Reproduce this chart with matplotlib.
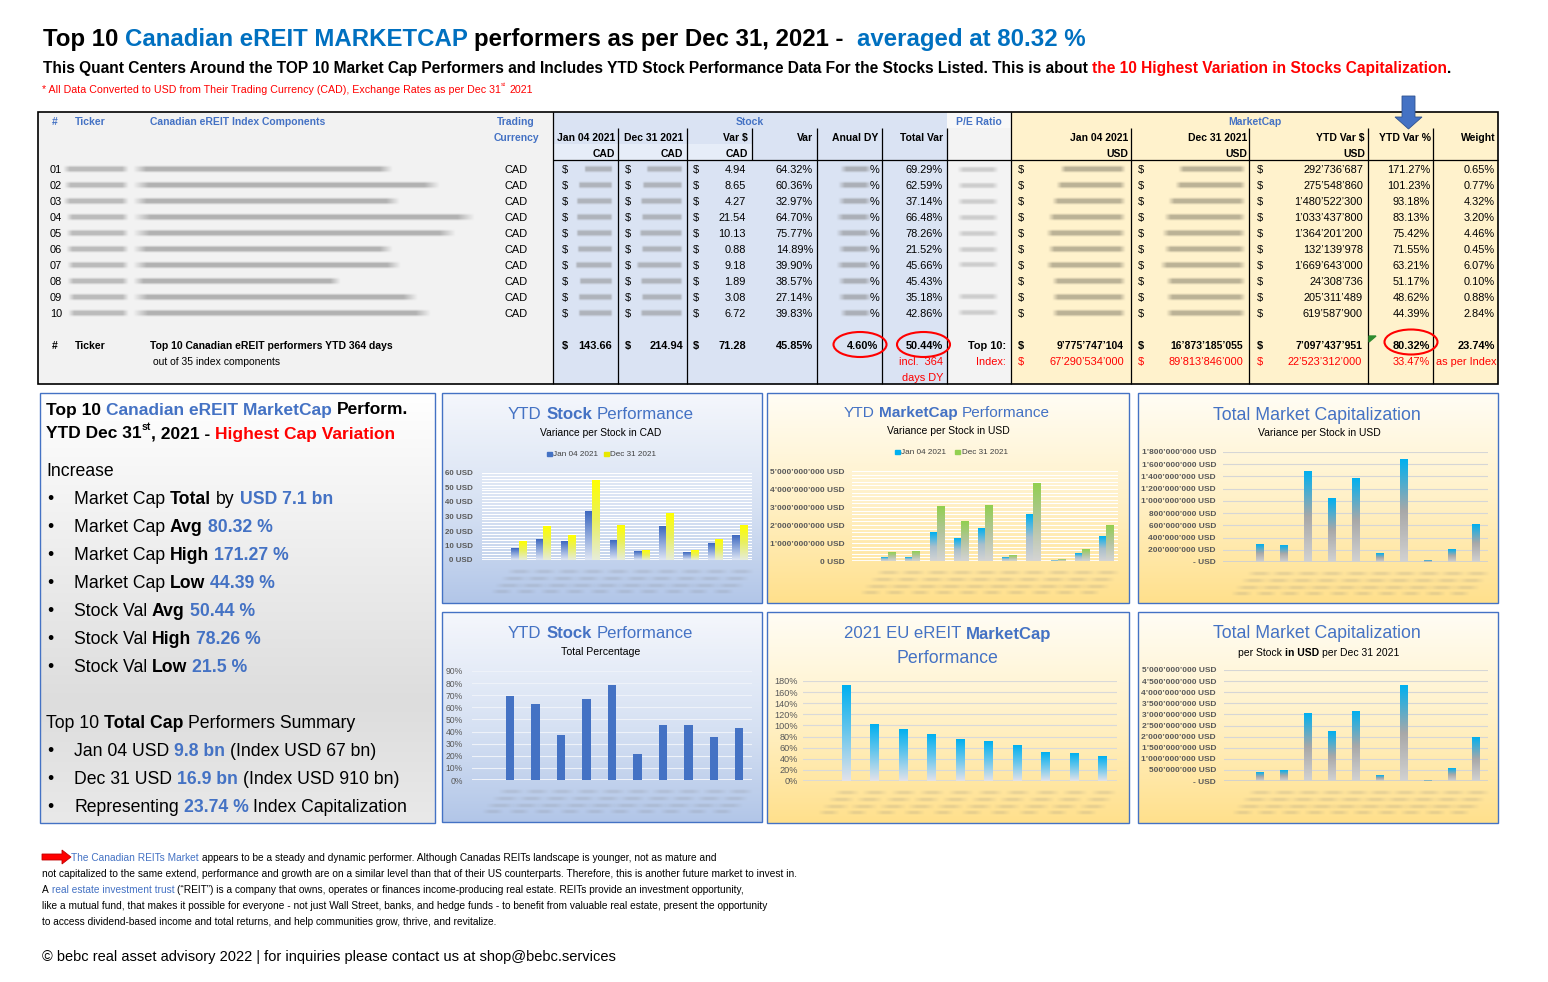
import numpy as np
import matplotlib
matplotlib.use('Agg')
import matplotlib.pyplot as plt
from matplotlib import font_manager as fm
from matplotlib.patches import Rectangle, Ellipse, Polygon
from matplotlib.colors import LinearSegmentedColormap

# ---------------- data ----------------
row_ids = ['01', '02', '03', '04', '05', '06', '07', '08', '09', '10']
trading_currency = ['CAD'] * 10
stock_jan_cad = [7.68, 14.33, 12.95, 33.29, 13.37, 5.91, 23.01, 4.90, 11.35, 16.87]
stock_dec_cad = [12.62, 22.98, 17.22, 54.83, 23.50, 6.79, 32.19, 6.79, 14.43, 23.59]
stock_var_cad = [4.94, 8.65, 4.27, 21.54, 10.13, 0.88, 9.18, 1.89, 3.08, 6.72]
stock_var_pct = [64.32, 60.36, 32.97, 64.70, 75.77, 14.89, 39.90, 38.57, 27.14, 39.83]
total_var_pct = [69.29, 62.59, 37.14, 66.48, 78.26, 21.52, 45.66, 45.43, 35.18, 42.86]
mcap_var_usd = [292736687, 275548860, 1480522300, 1033437800, 1364201200,
                132139978, 1669643000, 24308736, 205311489, 619587900]
mcap_var_pct = [171.27, 101.23, 93.18, 83.13, 75.42, 71.55, 63.21, 51.17, 48.62, 44.39]
weight_pct = [0.65, 0.77, 4.32, 3.20, 4.46, 0.45, 6.07, 0.10, 0.88, 2.84]

stock_totals_cad = [143.66, 214.94, 71.28]
stock_total_var_pct = 45.85
stock_total_dy_pct = 4.60
stock_total_totalvar_pct = 50.44
mcap_top10_usd = [9775747104, 16873185055, 7097437951]
mcap_index_usd = [67290534000, 89813846000, 22523312000]
mcap_top10_var_pct = 80.32
mcap_index_var_pct = 33.47
top10_weight_pct = 23.74

chart2_jan_usd = [0.17e9, 0.17e9, 1.57e9, 1.24e9, 1.80e9, 0.19e9, 2.61e9, 0.05e9, 0.41e9, 1.35e9]
chart2_dec_usd = [0.46e9, 0.52e9, 3.02e9, 2.22e9, 3.11e9, 0.30e9, 4.28e9, 0.07e9, 0.65e9, 2.00e9]
chart6_dec_usd = [0.39e9, 0.48e9, 3.02e9, 2.21e9, 3.11e9, 0.26e9, 4.29e9, 0.01e9, 0.57e9, 1.95e9]
legend_dates = ['Jan 04 2021', 'Dec 31 2021']

# ---------------- setup ----------------
W, H = 1548, 982
fig = plt.figure(figsize=(W / 100, H / 100), dpi=100, facecolor='white')
names = {f.name for f in fm.fontManager.ttflist}
NARROW = 'Liberation Sans Narrow' in names
CAL = 'Liberation Sans Narrow' if NARROW else 'Liberation Sans'
FAM = [CAL, 'DejaVu Sans']
plt.rcParams['font.family'] = FAM

bg = fig.add_axes([0, 0, 1, 1])
bg.set_xlim(0, W); bg.set_ylim(H, 0); bg.axis('off'); bg.set_autoscale_on(False)
R = fig.canvas.get_renderer()

BLUE = '#0070c0'
BLUE2 = '#4472c4'
RED = '#ff0000'
K = 'black'
B, N = 'bold', 'normal'
SC = 1.0 if NARROW else 0.84
TS = 9.4 * SC      # table data
THS = 8.9 * SC     # table bold headers


def txt(x, y, s, size=TS, color=K, weight=N, ha='left', va='center_baseline', z=6):
    return bg.text(x, y, s, fontsize=size, color=color, fontweight=weight,
                   ha=ha, va=va, zorder=z)


_sw = {}


def space_w(size, weight):
    k = (round(size, 2), weight)
    if k not in _sw:
        a = bg.text(0, 0, 'n n', fontsize=size, fontweight=weight)
        b = bg.text(0, 0, 'nn', fontsize=size, fontweight=weight)
        _sw[k] = a.get_window_extent(R).width - b.get_window_extent(R).width
        a.remove(); b.remove()
    return _sw[k]


def _layout(x, y, parts, size, draw, va='center_baseline', z=6):
    cx = x
    for p in parts:
        s, c, wgt = p[0], p[1], p[2]
        rs = p[3] if len(p) > 3 else 1.0
        dy = p[4] if len(p) > 4 else 0.0
        fs = size * rs
        sw = space_w(fs, wgt)
        core = s.strip(' ')
        lead = len(s) - len(s.lstrip(' '))
        trail = (len(s) - len(s.rstrip(' '))) if core else 0
        cx += lead * sw
        if core:
            t = bg.text(cx, y + dy * size * 100 / 72, core, fontsize=fs, color=c,
                        fontweight=wgt, ha='left', va=va, zorder=z)
            cx += t.get_window_extent(R).width
            if not draw:
                t.remove()
        cx += trail * sw
    return cx - x


def fit_size(parts, target, base=10.0):
    return base * target / _layout(0, 0, parts, base, False)


def rich(x, y, parts, size=10.0, target=None, ha='left', z=6):
    if target is not None:
        size = fit_size(parts, target, size)
    w = _layout(0, 0, parts, size, False)
    if ha == 'center':
        x -= w / 2
    elif ha == 'right':
        x -= w
    _layout(x, y, parts, size, True, z=z)
    return size


def rect(x0, y0, x1, y1, fc, ec='none', lw=0, z=1):
    bg.add_patch(Rectangle((x0, y0), x1 - x0, y1 - y0, facecolor=fc,
                           edgecolor=ec, linewidth=lw, zorder=z))


def vline(x, y0, y1, lw=0.9):
    bg.plot([x, x], [y0, y1], color=K, lw=lw, zorder=7, solid_capstyle='butt')


def hline(y, x0, x1, lw=0.9):
    bg.plot([x0, x1], [y, y], color=K, lw=lw, zorder=7, solid_capstyle='butt')


def smudge(x0, x1, yc, h=6.0, color=(0.45, 0.45, 0.45), amax=0.7, fade=0.12, z=4):
    w = max(int(round(x1 - x0)) * 2, 4)
    n = 24
    ys = np.linspace(-1, 1, n)
    xs = np.linspace(0, 1, w)
    prof = np.exp(-(ys / 0.75) ** 4) * (0.7 + 0.3 * np.cos(ys * 7.0) ** 2)
    hx = np.clip(np.minimum(xs, 1 - xs) / fade, 0, 1)
    a = np.clip(prof[:, None] * hx[None, :] * amax, 0, 1)
    img = np.zeros((n, w, 4))
    img[..., 0], img[..., 1], img[..., 2] = color
    img[..., 3] = a
    bg.imshow(img, extent=(x0, x1, yc + h / 2, yc - h / 2), aspect='auto',
              interpolation='bilinear', zorder=z)


def panel(x0, y0, x1, y1, stops, ec=BLUE2):
    cmap = LinearSegmentedColormap.from_list('p', stops)
    g = np.linspace(0, 1, 256)[:, None]
    bg.imshow(g, cmap=cmap, extent=(x0, x1, y1, y0), aspect='auto', origin='upper',
              zorder=1, interpolation='bilinear', vmin=0, vmax=1)
    bg.add_patch(Rectangle((x0, y0), x1 - x0, y1 - y0, fill=False, edgecolor=ec,
                           lw=1.0, zorder=2))


def ap(v):
    return f"{int(round(v)):,}".replace(',', '\u2019')


# ---------------- header texts ----------------
rich(43, 37, [("Top 10 ", K, B), ("Canadian eREIT MARKETCAP", BLUE, B),
              (" performers as per Dec 31, 2021 -  ", K, B), ("averaged at 80.32 %", BLUE, B)],
     size=18, target=1042)
rich(43, 67, [("This Quant Centers Around the TOP 10 Market Cap Performers and Includes YTD Stock "
               "Performance Data For the Stocks Listed. This is about ", K, B),
              ("the 10 Highest Variation in Stocks Capitalization", RED, B), (".", K, B)],
     size=11, target=1414)
rich(42, 89, [("* All Data Converted to USD from Their Trading Currency (CAD), Exchange Rates as per Dec 31", RED, N),
              ("st", RED, N, 0.6, -0.45), (" 2021", RED, N)], size=8, target=491)

# ---------------- table ----------------
T0, T1 = 112, 384
rect(38, T0, 553, T1, '#f2f2f2')
rect(553, T0, 947, T1, '#dae3f3')
rect(553, 144, 752, 160, '#e6edf8')
rect(947, T0, 1011, T1, '#f3f3f3')
rect(947, T0, 1011, 128, '#f8f8f8')
rect(1011, T0, 1498, T1, '#fff2cc')
bg.add_patch(Rectangle((38, T0), 1498 - 38, T1 - T0, fill=False, edgecolor=K, lw=1.2, zorder=8))
vline(553, T0, T1)
vline(1011, T0, T1)
for xv in [618, 687, 817, 882, 947, 1131, 1249, 1368, 1433]:
    vline(xv, 128, T1)
vline(752, 128, 160)
hline(160, 553, 1498)

for s, x, ha in [('#', 52, 'left'), ('Ticker', 75, 'left'), ('Canadian eREIT Index Components', 150, 'left')]:
    txt(x, 121, s, size=THS, color=BLUE2, weight=B, ha=ha)
txt(516, 121, 'Trading', size=THS, color=BLUE2, weight=B, ha='center')
txt(516, 137, 'Currency', size=THS, color=BLUE2, weight=B, ha='center')
txt(750, 121, 'Stock', size=THS, color=BLUE2, weight=B, ha='center')
txt(979, 121, 'P/E Ratio', size=THS, color=BLUE2, weight=B, ha='center')
txt(1255, 121, 'MarketCap', size=THS, color=BLUE2, weight=B, ha='center')
for s, x, y in [('Jan 04 2021', 615, 137), ('CAD', 615, 153), ('Dec 31 2021', 683, 137), ('CAD', 683, 153),
                ('Var $', 748, 137), ('CAD', 748, 153), ('Var', 813, 137), ('Anual DY', 878, 137),
                ('Total Var', 943, 137), ('Jan 04 2021', 1128, 137), ('USD', 1128, 153),
                ('Dec 31 2021', 1247, 137), ('USD', 1247, 153), ('YTD Var $', 1365, 137), ('USD', 1365, 153),
                ('YTD Var %', 1431, 137), ('Weight', 1496, 137)]:
    txt(x, y, s, size=THS, weight=B, ha='right')

name_end = [393, 440, 400, 475, 456, 393, 401, 341, 418, 431]
tick_start = [63, 64, 63, 66, 66, 66, 67, 67, 68, 68]
jan_start = [584, 578, 576, 576, 576, 577, 575, 579, 578, 578]
dec_start = [646, 642, 640, 641, 639, 641, 636, 640, 641, 640]
dy_start = [840, 838, 838, 836, 836, 838, 836, 838, 838, 840]
mj_start = [1060, 1056, 1052, 1048, 1046, 1048, 1046, 1052, 1052, 1052]
md_start = [1178, 1175, 1168, 1164, 1162, 1164, 1160, 1166, 1166, 1166]
GR = (0.52, 0.52, 0.52)
BR = (0.47, 0.45, 0.38)
for i in range(10):
    y = 169 + 16 * i
    txt(50, y, row_ids[i])
    smudge(tick_start[i], 129, y, h=8, color=GR, amax=0.6, fade=0.1)
    smudge(133, name_end[i], y, h=8, color=GR, amax=0.7, fade=0.05)
    txt(516, y, trading_currency[i], ha='center')
    for xs_ in [562, 625, 693]:
        txt(xs_, y, '$')
    smudge(jan_start[i], 613, y, h=7.5, color=GR, amax=0.6, fade=0.06)
    smudge(dec_start[i], 683, y, h=7.5, color=GR, amax=0.6, fade=0.06)
    txt(746, y, f"{stock_var_cad[i]:.2f}", ha='right')
    txt(813, y, f"{stock_var_pct[i]:.2f}%", ha='right')
    smudge(dy_start[i], 872, y, h=7.5, color=GR, amax=0.65, fade=0.2)
    txt(879, y, '%', ha='right')
    txt(943, y, f"{total_var_pct[i]:.2f}%", ha='right')
    if i != 7:
        smudge(957, 999, y, h=7, color=GR, amax=0.4, fade=0.15)
    txt(1018, y, '$'); txt(1138, y, '$'); txt(1257, y, '$')
    smudge(mj_start[i], 1126, y, h=7.5, color=BR, amax=0.6, fade=0.08)
    smudge(md_start[i], 1246, y, h=7.5, color=BR, amax=0.6, fade=0.08)
    txt(1363, y, ap(mcap_var_usd[i]), ha='right')
    txt(1430, y, f"{mcap_var_pct[i]:.2f}%", ha='right')
    txt(1495, y, f"{weight_pct[i]:.2f}%", ha='right')

# totals
yt = 345
txt(52, yt, '#', weight=B, size=THS); txt(75, yt, 'Ticker', weight=B, size=THS)
txt(150, yt, 'Top 10 Canadian eREIT performers YTD 364 days', weight=B, size=THS)
txt(153, yt + 16, 'out of 35 index components', size=THS)
for xs_, xr, v in zip([562, 625, 693], [612, 683, 746], stock_totals_cad):
    txt(xs_, yt, '$', weight=B)
    txt(xr, yt, f"{v:.2f}", weight=B, ha='right')
txt(813, yt, f"{stock_total_var_pct:.2f}%", weight=B, ha='right')
txt(878, yt, f"{stock_total_dy_pct:.2f}%", weight=B, ha='right')
txt(943, yt, f"{stock_total_totalvar_pct:.2f}%", weight=B, ha='right')
txt(943, yt + 16, 'incl.  364', color=RED, ha='right')
txt(943, yt + 32, 'days DY', color=RED, ha='right')
txt(1006, yt, 'Top 10:', weight=B, ha='right')
txt(1006, yt + 16, 'Index:', color=RED, ha='right')
for xs_, xr, v, vi in zip([1018, 1138, 1257], [1124, 1243, 1362], mcap_top10_usd, mcap_index_usd):
    txt(xs_, yt, '$', weight=B)
    txt(xr, yt, ap(v), weight=B, ha='right', size=THS)
    txt(xs_, yt + 16, '$', color=RED)
    txt(xr, yt + 16, ap(vi), color=RED, ha='right')
txt(1430, yt, f"{mcap_top10_var_pct:.2f}%", weight=B, ha='right')
txt(1430, yt + 16, f"{mcap_index_var_pct:.2f}%", color=RED, ha='right')
txt(1495, yt, f"{top10_weight_pct:.2f}%", weight=B, ha='right')
txt(1496, yt + 16, 'as per Index', color=RED, ha='right')
for cx, cy in [(860, 344.5), (923.5, 344.5), (1411, 342)]:
    bg.add_patch(Ellipse((cx, cy), 53, 25, fill=False, edgecolor=RED, lw=1.5, zorder=9))
bg.add_patch(Polygon([(1369, 336), (1376, 336), (1369, 342)], closed=True, color='#2e8b2e', zorder=9))
bg.add_patch(Polygon([(1402, 96), (1415, 96), (1415, 117), (1422, 117), (1408.5, 129),
                      (1395, 117), (1402, 117)], closed=True, facecolor=BLUE2,
                     edgecolor='#2f528f', lw=0.6, zorder=9))

# ---------------- left summary panel ----------------
panel(40, 393, 435, 823, [(0, '#ffffff'), (0.72, '#dddddd'), (1, '#e9e9e9')])
h1 = [("Top 10 ", K, B), ("Canadian eREIT MarketCap", BLUE2, B), (" Perform.", K, B)]
h2 = [("YTD Dec 31", K, B), ("st", K, B, 0.6, -0.4), (", 2021 - ", K, B), ("Highest Cap Variation", RED, B)]
hs = np.median([fit_size(h1, 363), fit_size(h2, 349)])
rich(46, 408.5, h1, size=hs)
rich(46, 432.5, h2, size=hs)

items = [
    (497.5, [("Market Cap ", K, N), ("Total", K, B), (" by ", K, N), ("USD 7.1 bn", BLUE2, B)], 261),
    (525.5, [("Market Cap ", K, N), ("Avg", K, B), (" 80.32 %", BLUE2, B)], 199),
    (553.5, [("Market Cap ", K, N), ("High", K, B), (" 171.27 %", BLUE2, B)], 216),
    (581.5, [("Market Cap ", K, N), ("Low", K, B), (" 44.39 %", BLUE2, B)], 202),
    (609.5, [("Stock Val ", K, N), ("Avg", K, B), (" 50.44 %", BLUE2, B)], 179),
    (637.5, [("Stock Val ", K, N), ("High", K, B), (" 78.26 %", BLUE2, B)], 185),
    (665.5, [("Stock Val ", K, N), ("Low", K, B), (" 21.5 %", BLUE2, B)], 171),
    (749.5, [("Jan 04 USD ", K, N), ("9.8 bn", BLUE2, B), (" (Index USD 67 bn)", K, N)], 297),
    (777.5, [("Dec 31 USD ", K, N), ("16.9 bn", BLUE2, B), (" (Index USD 910 bn)", K, N)], 321),
    (805.5, [("Representing ", K, N), ("23.74 %", BLUE2, B), (" Index Capitalization", K, N)], 343),
]
heads = [(469.5, [("Increase", K, N)], 69),
         (721.5, [("Top 10 ", K, N), ("Total Cap", K, B), (" Performers Summary", K, N)], 317)]
isz = np.median([fit_size(p, t) for _, p, t in items + heads])
for y, p, t in heads:
    rich(46, y, p, size=isz)
for y, p, t in items:
    txt(47, y, '\u2022', size=isz, z=6)
    rich(74, y, p, size=isz)

# ---------------- chart panels ----------------
BLUE_ST = [(0, '#f5f7fc'), (0.55, '#d6e1f3'), (1, '#b2c6e8')]
YEL_ST = [(0, '#fffdf5'), (0.5, '#fff1c8'), (1, '#ffe08c')]
panel(442, 393, 762, 603, BLUE_ST)
panel(767, 393, 1129, 603, YEL_ST)
panel(1138, 393, 1498, 603, YEL_ST)
panel(442, 612, 762, 822, BLUE_ST)
panel(767, 612, 1129, 823, YEL_ST)
panel(1138, 612, 1498, 823, YEL_ST)

pos = np.arange(1, 11)


def chart_axes(px0, py0, px1, py1, ymax, step, fmt, minor, gridc, lab_size, lab_bold, pad_px, axis_c):
    ax = fig.add_axes([px0 / W, 1 - py1 / H, (px1 - px0) / W, (py1 - py0) / H])
    ax.patch.set_alpha(0)
    for s in ax.spines.values():
        s.set_visible(False)
    ax.set_xticks([])
    ticks = np.arange(0, ymax + step * 0.5, step)
    ax.set_yticks(ticks)
    ax.set_yticklabels([fmt(t) for t in ticks], fontsize=lab_size, color='#595959',
                       fontweight=B if lab_bold else N)
    ax.tick_params(axis='y', length=0, pad=pad_px * 0.72)
    for g in np.arange(0, ymax + minor * 0.5, minor):
        ax.axhline(g, color=gridc, lw=0.8, zorder=1)
    ax.axhline(0, color=axis_c, lw=1.3, zorder=2)
    return ax


def grad_bars(ax, x, vals, width, stops):
    bars = ax.bar(x, vals, width, color='none', edgecolor='none', zorder=3)
    cmap = LinearSegmentedColormap.from_list('b', stops)
    g = np.linspace(0, 1, 128)[:, None]
    for b in bars:
        x0, bw, bh = b.get_x(), b.get_width(), b.get_height()
        ax.imshow(g, extent=(x0, x0 + bw, 0, bh), origin='lower', cmap=cmap, aspect='auto',
                  zorder=3, interpolation='bilinear', vmin=0, vmax=1)
    return bars


def finish(ax, ymax):
    ax.set_xlim(-0.5, 10.5)
    ax.set_ylim(0, ymax)


def xsmudge(px0, px1, ybot):
    slot = (px1 - px0) / 11
    for i in range(1, 11):
        cx = px0 + (i + 0.5) * slot
        for dx0, dx1, dy in [(-12, 14, 12), (-18, 9, 19), (-24, 4, 26), (-28, -6, 32)]:
            smudge(cx + dx0, cx + dx1, ybot + dy, h=5, color=(0.5, 0.5, 0.5),
                   amax=0.22, fade=0.35, z=2)


def usd(v):
    return ap(v) + ' USD' if v > 0 else '0 USD'


def usd_dash(v):
    return ap(v) + ' USD' if v > 0 else '- USD'


def legend(items_, y):
    for (mx, col, tx, label) in items_:
        bg.add_patch(Rectangle((mx, y - 2.5), 4.5, 4.5, color=col, zorder=6))
        txt(tx, y, label, size=7 * SC, color='#404040')


CB = BLUE2
LS = 7.2 * SC
# chart 1
rich(508, 413, [("YTD ", CB, N), ("Stock", CB, B), (" Performance", CB, N)], size=14, target=186)
rich(540, 432, [("Variance per Stock in CAD", K, N)], size=8, target=123)
legend([(547, '#4472c4', 553, legend_dates[0]), (604, '#e8e800', 610, legend_dates[1])], 454)
ax1 = chart_axes(482, 473, 752, 560, 60, 10, lambda v: f"{v:.0f} USD", 2, 'white', 6.8 * SC, True, 9, 'white')
grad_bars(ax1, pos - 0.15, stock_jan_cad, 0.3, ['#dfe6f4', '#8fa9dc', '#3d68c0'])
grad_bars(ax1, pos + 0.15, stock_dec_cad, 0.3, ['#e6ecda', '#e9f060', '#ffff00'])
finish(ax1, 60)
xsmudge(482, 752, 560)

# chart 2
rich(844, 411.5, [("YTD ", CB, N), ("MarketCap", CB, B), (" Performance", CB, N)], size=14, target=207)
rich(887, 429.5, [("Variance per Stock in USD", K, N)], size=8, target=123)
legend([(895, '#00b0f0', 901, legend_dates[0]), (955, '#92d050', 962, legend_dates[1])], 452)
ax2 = chart_axes(852, 471, 1118, 561, 5e9, 1e9, usd, 0.2e9, 'white', LS, True, 7, 'white')
grad_bars(ax2, pos - 0.145, chart2_jan_usd, 0.29, ['#d4d4d4', '#a9bfcc', '#00b0f0'])
grad_bars(ax2, pos + 0.145, chart2_dec_usd, 0.29, ['#d4d4d4', '#b4c4a0', '#92d050'])
finish(ax2, 5e9)
xsmudge(852, 1118, 561)

# chart 3
rich(1213, 413, [("Total Market Capitalization", CB, N)], size=14, target=210)
rich(1258, 432.5, [("Variance per Stock in USD", K, N)], size=8, target=123)
ax3 = chart_axes(1223, 452, 1488, 562, 1.8e9, 0.2e9, usd_dash, 0.2e9, '#d6d6d6', LS, True, 7, '#d0d0d0')
grad_bars(ax3, pos, mcap_var_usd, 0.3, ['#d2d2d2', '#a8a8a8', '#00b0f0'])
finish(ax3, 1.8e9)
xsmudge(1223, 1488, 562)

# chart 4
rich(508, 631.5, [("YTD ", CB, N), ("Stock", CB, B), (" Performance", CB, N)], size=14, target=185)
rich(561, 651, [("Total Percentage", K, N)], size=8, target=80)
ax4 = chart_axes(472, 671, 752, 780, 90, 10, lambda v: f"{v:.0f}%", 10, '#eef2f9', 7.4 * SC, False, 9, '#f4f6fb')
ax4.bar(pos, total_var_pct, 0.33, color='#4472c4', zorder=3)
finish(ax4, 90)
xsmudge(472, 752, 780)

# chart 5
rich(844, 632.5, [("2021 EU eREIT ", CB, N), ("MarketCap", CB, B)], size=14, target=208)
rich(896, 656.5, [("Performance", CB, N)], size=14, target=102)
ax5 = chart_axes(803, 681, 1117, 781, 180, 20, lambda v: f"{v:.0f}%", 20, '#d9d9d9', 7.8 * SC, False, 5, '#d9d9d9')
grad_bars(ax5, pos, mcap_var_pct, 0.3, ['#e2e2ea', '#6cc7ec', '#00b0f0'])
finish(ax5, 180)
xsmudge(803, 1117, 781)

# chart 6
rich(1213, 632, [("Total Market Capitalization", CB, N)], size=14, target=209)
rich(1238, 651.5, [("per Stock ", K, N), ("in USD", K, B), (" per Dec 31 2021", K, N)], size=8, target=161)
ax6 = chart_axes(1224, 670, 1488, 781, 5e9, 0.5e9, usd_dash, 0.5e9, '#d6d6d6', LS, True, 8, '#d0d0d0')
grad_bars(ax6, pos, chart6_dec_usd, 0.32, ['#d2d2d2', '#a8a8a8', '#00b0f0'])
finish(ax6, 5e9)
xsmudge(1224, 1488, 781)

# ---------------- footer ----------------
bg.add_patch(Polygon([(42, 854), (62, 854), (62, 850), (71, 857), (62, 864), (62, 860), (42, 860)],
                     closed=True, facecolor='#ff0000', edgecolor='#c00000', lw=0.6, zorder=6))
f1 = [("The Canadian REITs Market", BLUE2, N),
      (" appears to be a steady and dynamic performer. Although Canadas REITs landscape is younger, not as mature and", K, N)]
f2 = [("not capitalized to the same extend, performance and growth are on a similar level than that of their US "
       "counterparts. Therefore, this is another future market to invest in.", K, N)]
f3 = [("A ", K, N), ("real estate investment trust", BLUE2, N),
      (" (\u201cREIT\u201d) is a company that owns, operates or finances income-producing real estate. REITs provide an investment opportunity,", K, N)]
f4 = [("like a mutual fund, that makes it possible for everyone - not just Wall Street, banks, and hedge funds - "
       "to benefit from valuable real estate, present the opportunity", K, N)]
f5 = [("to access dividend-based income and total returns, and help communities grow, thrive, and revitalize.", K, N)]
foot = [(71, 857, f1, 622), (42, 873, f2, 751), (42, 889, f3, 699), (42, 905, f4, 720), (42, 921, f5, 454)]
fsz = np.median([fit_size(p, t, 7) for _, _, p, t in foot])
for x, y, p, t in foot:
    rich(x, y, p, size=fsz)
rich(42, 956, [("\u00a9 bebc real asset advisory 2022 | for inquiries please contact us at shop@bebc.services", K, N)],
     size=11, target=570)

bg.set_xlim(0, W); bg.set_ylim(H, 0)
fig.savefig('out.png', dpi=100, facecolor='white')
